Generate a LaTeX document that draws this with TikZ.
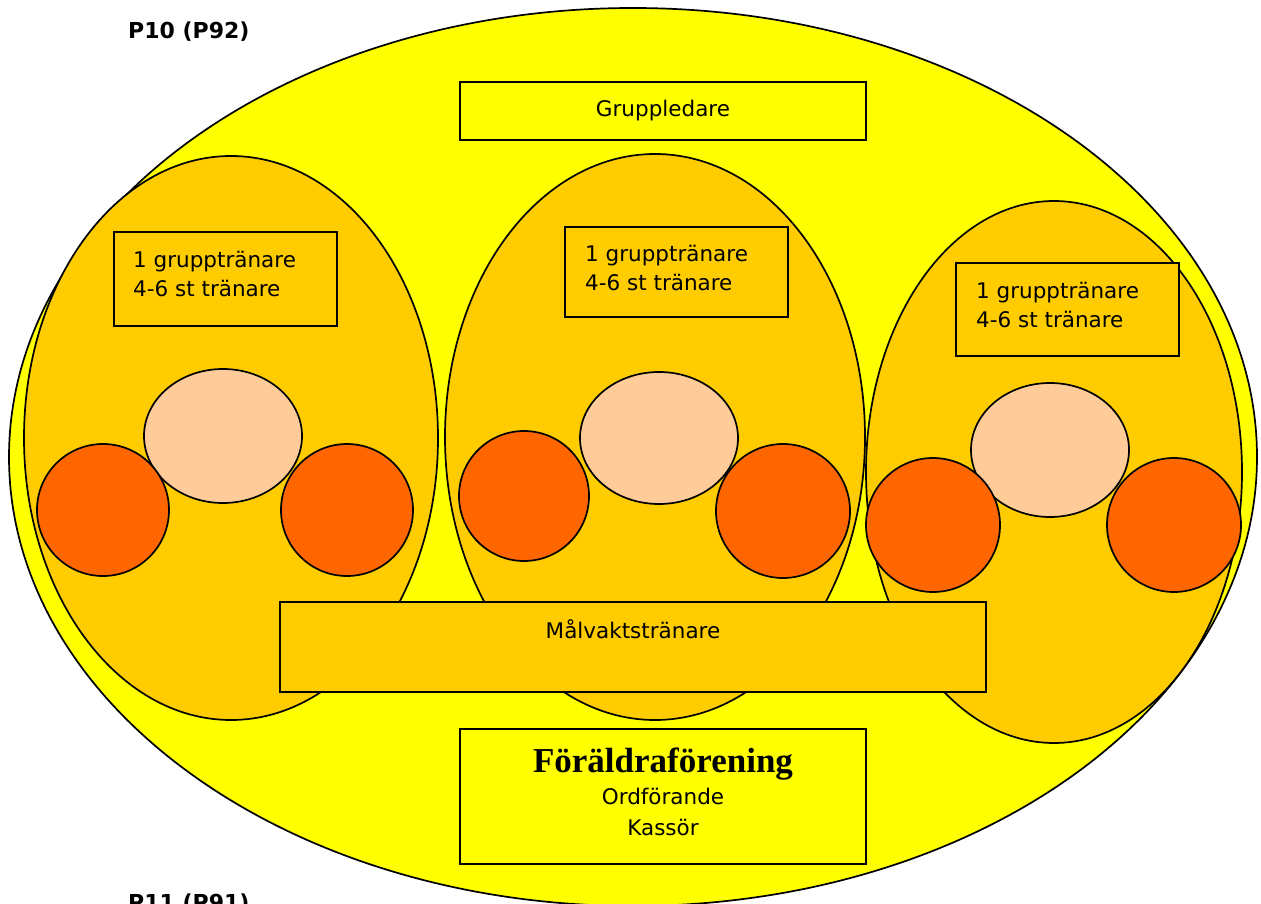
\documentclass[tikz,border=0pt]{standalone}
\usepackage{fontspec}
\setmainfont{DejaVu Sans}
\newfontfamily\titlefont{Liberation Serif}
\definecolor{field}{HTML}{FFFF00}
\definecolor{squad}{HTML}{FFCC00}
\definecolor{keeper}{HTML}{FFCC99}
\definecolor{player}{HTML}{FF6600}
\newcommand{\lblsize}{\fontsize{21.5}{29}\selectfont}
\tikzset{
  outline/.style={draw=black, line width=1.7pt},
  lbl/.style={inner sep=0pt, font=\lblsize, align=left},
  head/.style={inner sep=0pt, font=\fontsize{22}{26}\selectfont\bfseries, anchor=base west}
}

\begin{document}
\begin{tikzpicture}[x=1pt,y=-1pt]
			\useasboundingbox (0,0) rectangle (1261,904);
			\fill[white] (0,0) rectangle (1261,904);
			\draw[outline, fill=field] (633,457) ellipse [x radius=624, y radius=449];
			\draw[outline, fill=field] (460,82) rectangle (866,140);
			\node[lbl, anchor=base] (leader) at (663,117) {Gruppledare};
			% left group
			\draw[outline, fill=squad] (231,438) ellipse [x radius=207, y radius=282];
			\draw[outline, fill=squad] (114,232) rectangle (337,326);
			\node[lbl, anchor=west] (coachL) at (133,274) {1 grupptränare\\4-6 st tränare};
			\draw[outline, fill=keeper] (223,436) ellipse [x radius=79, y radius=67];
			\foreach \x in {103, 347} \draw[outline, fill=player] (\x,510) circle [radius=66];
			% middle group
			\draw[outline, fill=squad] (655,437) ellipse [x radius=210, y radius=283];
			\draw[outline, fill=squad] (565,227) rectangle (788,317);
			\node[lbl, anchor=west] (coachM) at (585,268) {1 grupptränare\\4-6 st tränare};
			\draw[outline, fill=keeper] (659,438) ellipse [x radius=79, y radius=66];
			\draw[outline, fill=player] (524,496) circle [radius=65];
			\draw[outline, fill=player] (783,511) circle [radius=67];
			% right group
			\draw[outline, fill=squad] (1054,472) ellipse [x radius=188, y radius=271];
			\draw[outline, fill=squad] (956,263) rectangle (1179,356);
			\node[lbl, anchor=west] (coachR) at (976,305) {1 grupptränare\\4-6 st tränare};
			\draw[outline, fill=keeper] (1050,450) ellipse [x radius=79, y radius=67];
			\foreach \x in {933, 1174} \draw[outline, fill=player] (\x,525) circle [radius=67];
			% bottom boxes
			\draw[outline, fill=squad] (280,602) rectangle (986,692);
			\node[lbl, anchor=base] (goalie) at (633,638) {Målvaktstränare};
			\draw[outline, fill=field] (460,729) rectangle (866,864);
			\node[inner sep=0pt, anchor=base, font=\titlefont\fontsize{35}{40}\selectfont\bfseries] (parents) at (663,772) {Föräldraförening};
			\node[lbl, anchor=base] (chair) at (663,804) {Ordförande};
			\node[lbl, anchor=base] (cashier) at (663,835) {Kassör};
			\node[head] (p10) at (128,39) {P10 (P92)};
			\node[head] (p11) at (128,910) {P11 (P91)};
		\end{tikzpicture}
\end{document}
